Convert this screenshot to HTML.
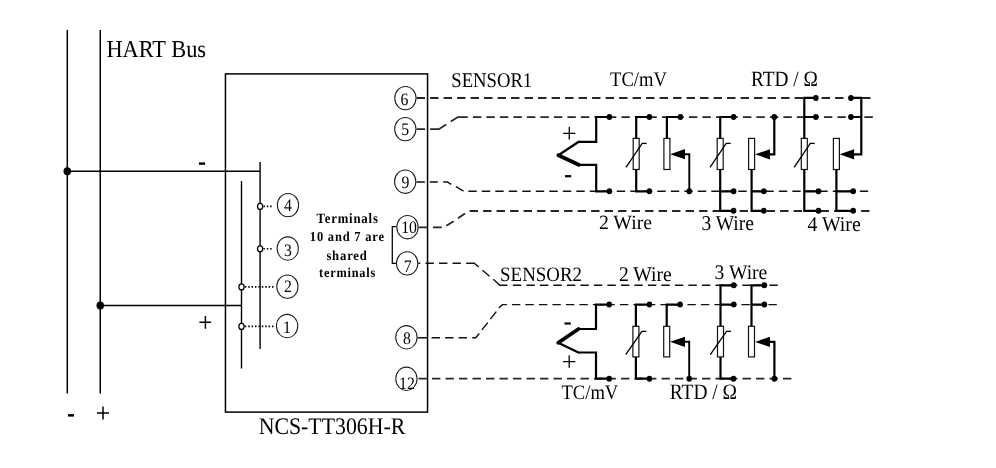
<!DOCTYPE html>
<html><head><meta charset="utf-8"><style>
html,body{margin:0;padding:0;background:#fff;}
body{width:996px;height:468px;overflow:hidden;}
svg{display:block;will-change:transform;text-rendering:geometricPrecision;}
</style></head><body>
<svg width="996" height="468" viewBox="0 0 996 468" stroke="#000" fill="none">
<line x1="67.3" y1="30" x2="67.3" y2="393.5" stroke="#000" stroke-width="1.5"/>
<line x1="100.25" y1="30" x2="100.25" y2="393.5" stroke="#000" stroke-width="1.5"/>
<line x1="67.3" y1="171.3" x2="260.1" y2="171.3" stroke="#000" stroke-width="1.5"/>
<line x1="100.25" y1="305.5" x2="241.5" y2="305.5" stroke="#000" stroke-width="1.5"/>
<ellipse cx="67.3" cy="171.3" rx="3.75" ry="4.1" fill="#000" stroke="none"/>
<ellipse cx="100.25" cy="305.5" rx="3.75" ry="4.1" fill="#000" stroke="none"/>
<text transform="translate(106.44,57.2) scale(0.9212,1)" font-size="24.3" font-weight="normal" letter-spacing="0" font-family="Liberation Serif" fill="#000" stroke="none">HART Bus</text>
<rect x="198.9" y="162.4" width="6.2" height="2.4" fill="#000" stroke="none"/>
<path d="M199.4,322.3 H211.1 M205.4,316.1 V328.7" stroke-width="1.45" fill="none" />
<rect x="68" y="414.1" width="6" height="2.5" fill="#000" stroke="none"/>
<path d="M96.9,413 H109 M103,406.4 V419.6" stroke-width="1.5" fill="none" />
<rect x="225.45" y="73.9" width="202.1" height="338.2" fill="none" stroke-width="1.5"/>
<text transform="translate(258.65,433.9) scale(0.9149,1)" font-size="23.85" font-weight="normal" letter-spacing="0" font-family="Liberation Serif" fill="#000" stroke="none">NCS-TT306H-R</text>
<line x1="260.1" y1="162" x2="260.1" y2="349" stroke="#000" stroke-width="1.4"/>
<line x1="241.5" y1="181" x2="241.5" y2="368.5" stroke="#000" stroke-width="1.4"/>
<line x1="263.4" y1="206.4" x2="273.6" y2="206.4" stroke-width="1.6" stroke-dasharray="1.5 1.9"/>
<ellipse cx="260.1" cy="206.4" rx="2.6" ry="3.0" fill="#fff" stroke-width="1.25"/>
<line x1="263.4" y1="248.8" x2="273.6" y2="248.8" stroke-width="1.6" stroke-dasharray="1.5 1.9"/>
<ellipse cx="260.1" cy="248.8" rx="2.6" ry="3.0" fill="#fff" stroke-width="1.25"/>
<line x1="244.8" y1="286.9" x2="273.6" y2="286.9" stroke-width="1.6" stroke-dasharray="1.5 1.9"/>
<ellipse cx="241.5" cy="286.9" rx="2.6" ry="3.0" fill="#fff" stroke-width="1.25"/>
<line x1="244.8" y1="326.4" x2="273.6" y2="326.4" stroke-width="1.6" stroke-dasharray="1.5 1.9"/>
<ellipse cx="241.5" cy="326.4" rx="2.6" ry="3.0" fill="#fff" stroke-width="1.25"/>
<ellipse cx="288" cy="205.05" rx="10.65" ry="11.65" fill="none" stroke="#1a1a1a" stroke-width="1.05"/>
<text transform="translate(284.06,210.9) scale(0.9000,1)" font-size="17.5" font-weight="normal" letter-spacing="0" font-family="Liberation Serif" fill="#000" stroke="none">4</text>
<ellipse cx="287.75" cy="248.5" rx="10.65" ry="11.65" fill="none" stroke="#1a1a1a" stroke-width="1.05"/>
<text transform="translate(283.96,255.88) scale(0.9000,1)" font-size="17.5" font-weight="normal" letter-spacing="0" font-family="Liberation Serif" fill="#000" stroke="none">3</text>
<ellipse cx="287.4" cy="286.6" rx="10.65" ry="11.65" fill="none" stroke="#1a1a1a" stroke-width="1.05"/>
<text transform="translate(284.01,292.2) scale(0.9000,1)" font-size="17.5" font-weight="normal" letter-spacing="0" font-family="Liberation Serif" fill="#000" stroke="none">2</text>
<ellipse cx="287.1" cy="326" rx="10.65" ry="11.65" fill="none" stroke="#1a1a1a" stroke-width="1.05"/>
<text transform="translate(282.92,332.8) scale(0.9000,1)" font-size="17.5" font-weight="normal" letter-spacing="0" font-family="Liberation Serif" fill="#000" stroke="none">1</text>
<text transform="translate(316.54,222.82) scale(0.8913,1)" font-size="14.29" font-weight="bold" letter-spacing="0.93" font-family="Liberation Serif" fill="#000" stroke="none">Terminals</text>
<text transform="translate(309.87,241.13) scale(0.9087,1)" font-size="13.71" font-weight="bold" letter-spacing="0.89" font-family="Liberation Serif" fill="#000" stroke="none">10 and 7 are</text>
<text transform="translate(326.38,259.53) scale(0.9128,1)" font-size="13.86" font-weight="bold" letter-spacing="0.9" font-family="Liberation Serif" fill="#000" stroke="none">shared</text>
<text transform="translate(319.05,277.33) scale(0.9061,1)" font-size="13.57" font-weight="bold" letter-spacing="0.88" font-family="Liberation Serif" fill="#000" stroke="none">terminals</text>
<path d="M396,226.6 H392.3 V263.4 H396" stroke-width="1.25" fill="none" />
<path d="M416.6,98 H871" stroke="#262626" stroke-width="1.8" fill="none" stroke-dasharray="8.4 5.1" stroke-dashoffset="0"/>
<path d="M416.6,129.2 H425 M430.1,129.2 H438.8 L446.3,124.6 M450.8,121.6 L457.9,117.1 H467.8" stroke="#262626" stroke-width="1.8" fill="none"/>
<path d="M472.9,117.1 H873" stroke="#262626" stroke-width="1.8" fill="none" stroke-dasharray="8.4 5.1" stroke-dashoffset="0"/>
<path d="M416.4,182 H424.8 M429.8,182 H437.8 M443.2,182 H447.4 L451.2,184.4 M456,186.6 L463.5,191.1" stroke="#111" stroke-width="1.45" fill="none"/>
<path d="M468.3,191.2 H869" stroke="#111" stroke-width="1.45" fill="none" stroke-dasharray="8.4 5.1" stroke-dashoffset="0"/>
<path d="M418.7,227.3 H427.3 M432.9,227.3 H441.8 M446.3,225.8 L453.7,221.3 M458,218.3 L465,213.5" stroke="#262626" stroke-width="1.8" fill="none"/>
<path d="M469.6,211 H870" stroke="#262626" stroke-width="1.8" fill="none" stroke-dasharray="8.4 5.1" stroke-dashoffset="0"/>
<path d="M418.3,263.2 H420.3 M466.2,263.2 H474.2 L478.8,267 M482.5,270.3 L489.5,276.3 M493.3,279.3 L499.8,285.2 H507.4" stroke="#111" stroke-width="1.45" fill="none"/>
<path d="M425.5,263.2 H466" stroke="#111" stroke-width="1.45" fill="none" stroke-dasharray="8.4 5.1" stroke-dashoffset="0"/>
<path d="M512.9,285.2 H778" stroke="#111" stroke-width="1.45" fill="none" stroke-dasharray="8.4 5.1" stroke-dashoffset="0"/>
<path d="M417.5,337.7 H427 M472.2,337.7 H475.7 L479.3,333.6 M481.8,329.9 L487.8,322.6 M490.3,319.1 L496.3,311.6 M498.8,308 L502.4,304.6 H506.9" stroke="#111" stroke-width="1.45" fill="none"/>
<path d="M431.6,337.7 H472" stroke="#111" stroke-width="1.45" fill="none" stroke-dasharray="8.4 5.1" stroke-dashoffset="0"/>
<path d="M511.9,304.6 H778" stroke="#111" stroke-width="1.45" fill="none" stroke-dasharray="8.4 5.1" stroke-dashoffset="0"/>
<path d="M417.6,378.7 H791.5" stroke="#262626" stroke-width="1.7" fill="none" stroke-dasharray="8.4 5.1" stroke-dashoffset="12.6"/>
<ellipse cx="405.4" cy="98.1" rx="10.65" ry="11.65" fill="none" stroke="#1a1a1a" stroke-width="1.05"/>
<text transform="translate(400.41,105.48) scale(0.9000,1)" font-size="17.5" font-weight="normal" letter-spacing="0" font-family="Liberation Serif" fill="#000" stroke="none">6</text>
<ellipse cx="405.3" cy="129.1" rx="10.65" ry="11.65" fill="none" stroke="#1a1a1a" stroke-width="1.05"/>
<text transform="translate(401.27,135.28) scale(0.9000,1)" font-size="17.5" font-weight="normal" letter-spacing="0" font-family="Liberation Serif" fill="#000" stroke="none">5</text>
<ellipse cx="405.2" cy="181.7" rx="10.65" ry="11.65" fill="none" stroke="#1a1a1a" stroke-width="1.05"/>
<text transform="translate(401.56,187.58) scale(0.9000,1)" font-size="17.5" font-weight="normal" letter-spacing="0" font-family="Liberation Serif" fill="#000" stroke="none">9</text>
<ellipse cx="407.5" cy="227.2" rx="10.65" ry="11.65" fill="none" stroke="#1a1a1a" stroke-width="1.05"/>
<text transform="translate(401.23,232.58) scale(0.9000,1)" font-size="17.5" font-weight="normal" letter-spacing="0" font-family="Liberation Serif" fill="#000" stroke="none">10</text>
<ellipse cx="407.15" cy="263.4" rx="10.65" ry="11.65" fill="none" stroke="#1a1a1a" stroke-width="1.05"/>
<text transform="translate(403.77,271.8) scale(0.9000,1)" font-size="17.5" font-weight="normal" letter-spacing="0" font-family="Liberation Serif" fill="#000" stroke="none">7</text>
<ellipse cx="406.4" cy="337.25" rx="10.65" ry="11.65" fill="none" stroke="#1a1a1a" stroke-width="1.05"/>
<text transform="translate(402.91,343.58) scale(0.9000,1)" font-size="17.5" font-weight="normal" letter-spacing="0" font-family="Liberation Serif" fill="#000" stroke="none">8</text>
<ellipse cx="406.4" cy="378.75" rx="10.65" ry="11.65" fill="none" stroke="#1a1a1a" stroke-width="1.05"/>
<text transform="translate(399.03,388.7) scale(0.9000,1)" font-size="17.5" font-weight="normal" letter-spacing="0" font-family="Liberation Serif" fill="#000" stroke="none">12</text>
<text transform="translate(451.33,86.64) scale(0.8932,1)" font-size="20.89" font-weight="normal" letter-spacing="0" font-family="Liberation Serif" fill="#000" stroke="none">SENSOR1</text>
<text transform="translate(610.07,86.44) scale(0.8968,1)" font-size="20.74" font-weight="normal" letter-spacing="0" font-family="Liberation Serif" fill="#000" stroke="none">TC/mV</text>
<text transform="translate(750.92,86.43) scale(0.8879,1)" font-size="21.78" font-weight="normal" letter-spacing="0" font-family="Liberation Serif" fill="#000" stroke="none">RTD / Ω</text>
<text transform="translate(598.91,229.35) scale(0.9721,1)" font-size="20.3" font-weight="normal" letter-spacing="0" font-family="Liberation Serif" fill="#000" stroke="none">2 Wire</text>
<text transform="translate(701.42,229.84) scale(0.9288,1)" font-size="21.04" font-weight="normal" letter-spacing="0" font-family="Liberation Serif" fill="#000" stroke="none">3 Wire</text>
<text transform="translate(807.4,230.84) scale(0.9416,1)" font-size="21.04" font-weight="normal" letter-spacing="0" font-family="Liberation Serif" fill="#000" stroke="none">4 Wire</text>
<text transform="translate(500.12,280.54) scale(0.9231,1)" font-size="20.44" font-weight="normal" letter-spacing="0" font-family="Liberation Serif" fill="#000" stroke="none">SENSOR2</text>
<text transform="translate(618.92,280.84) scale(0.9409,1)" font-size="20.89" font-weight="normal" letter-spacing="0" font-family="Liberation Serif" fill="#000" stroke="none">2 Wire</text>
<text transform="translate(714.62,279.14) scale(0.9439,1)" font-size="20.74" font-weight="normal" letter-spacing="0" font-family="Liberation Serif" fill="#000" stroke="none">3 Wire</text>
<text transform="translate(561.47,398.64) scale(0.9033,1)" font-size="20.59" font-weight="normal" letter-spacing="0" font-family="Liberation Serif" fill="#000" stroke="none">TC/mV</text>
<text transform="translate(669.71,398.73) scale(0.8873,1)" font-size="21.93" font-weight="normal" letter-spacing="0" font-family="Liberation Serif" fill="#000" stroke="none">RTD / Ω</text>
<path d="M609.4,117 H596.2 V141.8 H578.7" stroke-width="2.2" fill="none" />
<path d="M609.4,191.3 H596.2 V164.8 H578.7" stroke-width="2.2" fill="none" />
<path d="M578.7,141.8 L558.4,155.3" stroke-width="2.3" fill="none" stroke-linecap="round"/>
<path d="M558.4,155.3 L578.7,164.8" stroke-width="3.8" fill="none" stroke-linecap="round"/>
<ellipse cx="609.4" cy="117" rx="2.8" ry="3.0" fill="#000" stroke="none"/>
<ellipse cx="609.4" cy="191.3" rx="2.8" ry="3.0" fill="#000" stroke="none"/>
<path d="M563.2,133.3 H575.4 M569.3,127 V139.6" stroke-width="1.3" fill="none" />
<rect x="565" y="175.1" width="6.2" height="2.2" fill="#000" stroke="none"/>
<path d="M649.4,117.0 H636.2 V138.4 M636.2,169.5 V191.3 H649.4" stroke-width="2.2" fill="none" />
<rect x="633.2" y="138.4" width="6.0" height="31.1" fill="#fff" stroke="#111" stroke-width="1.2"/>
<path d="M626,167.3 L642.2,143.4 H646.7" stroke-width="1.3" fill="none" />
<ellipse cx="649.4" cy="117" rx="2.8" ry="3.0" fill="#000" stroke="none"/>
<ellipse cx="649.4" cy="191.3" rx="2.8" ry="3.0" fill="#000" stroke="none"/>
<path d="M680.4,117.0 H666.9 V138.4" stroke-width="2.2" fill="none" />
<rect x="663.9" y="138.4" width="6.0" height="31.1" fill="#fff" stroke="#111" stroke-width="1.2"/>
<path d="M684,154.2 H689.3 V191.3" stroke-width="1.9" fill="none" />
<path d="M670.2,154.2 L685,149.1 V159.3 Z" fill="#000" stroke="none"/>
<ellipse cx="680.4" cy="117" rx="2.8" ry="3.0" fill="#000" stroke="none"/>
<ellipse cx="689.3" cy="191.3" rx="2.8" ry="3.0" fill="#000" stroke="none"/>
<path d="M733.6,117.0 H720.2 V138.4 M720.2,169.5 V210.8 H733.6 M720.2,191.3 H733.6" stroke-width="2.2" fill="none" />
<rect x="717.2" y="138.4" width="6.0" height="31.1" fill="#fff" stroke="#111" stroke-width="1.2"/>
<path d="M710,167.3 L726.2,143.4 H730.7" stroke-width="1.3" fill="none" />
<ellipse cx="733.6" cy="117" rx="2.8" ry="3.0" fill="#000" stroke="none"/>
<ellipse cx="733.6" cy="191.3" rx="2.8" ry="3.0" fill="#000" stroke="none"/>
<ellipse cx="733.6" cy="210.8" rx="2.8" ry="3.0" fill="#000" stroke="none"/>
<path d="M751.6,169.5 V210.8 H763.8 M751.6,191.3 H763.8" stroke-width="2.2" fill="none" />
<rect x="748.6" y="138.4" width="6.0" height="31.1" fill="#fff" stroke="#111" stroke-width="1.2"/>
<path d="M769,154.3 H774.3 V117.0" stroke-width="2.2" fill="none" />
<path d="M755,154.3 L770,149.2 V159.4 Z" fill="#000" stroke="none"/>
<ellipse cx="763.8" cy="191.3" rx="2.8" ry="3.0" fill="#000" stroke="none"/>
<ellipse cx="763.8" cy="210.8" rx="2.8" ry="3.0" fill="#000" stroke="none"/>
<ellipse cx="774.3" cy="117" rx="2.8" ry="3.0" fill="#000" stroke="none"/>
<path d="M815.9,97.9 H804.3 V138.4 M804.3,117.0 H815.9 M804.3,169.5 V210.8 H818.5 M804.3,191.3 H818.5" stroke-width="2.2" fill="none" />
<rect x="801.3" y="138.4" width="6.0" height="31.1" fill="#fff" stroke="#111" stroke-width="1.2"/>
<path d="M794.1,167.3 L810.3,143.4 H814.8" stroke-width="1.3" fill="none" />
<ellipse cx="815.9" cy="97.9" rx="2.8" ry="3.0" fill="#000" stroke="none"/>
<ellipse cx="815.9" cy="117" rx="2.8" ry="3.0" fill="#000" stroke="none"/>
<ellipse cx="818.5" cy="191.3" rx="2.8" ry="3.0" fill="#000" stroke="none"/>
<ellipse cx="818.5" cy="210.8" rx="2.8" ry="3.0" fill="#000" stroke="none"/>
<path d="M836.4,169.5 V210.8 H853.2 M836.4,191.3 H853.2" stroke-width="2.2" fill="none" />
<rect x="833.4" y="138.4" width="6.0" height="31.1" fill="#fff" stroke="#111" stroke-width="1.2"/>
<path d="M850.9,97.9 H861.3 V154.3 H853 M850.9,117.0 H861.3" stroke-width="2.2" fill="none" />
<path d="M839.6,154.3 L854.1,149.2 V159.4 Z" fill="#000" stroke="none"/>
<ellipse cx="850.9" cy="97.9" rx="2.8" ry="3.0" fill="#000" stroke="none"/>
<ellipse cx="850.9" cy="117" rx="2.8" ry="3.0" fill="#000" stroke="none"/>
<ellipse cx="853.2" cy="191.3" rx="2.8" ry="3.0" fill="#000" stroke="none"/>
<ellipse cx="853.2" cy="210.8" rx="2.8" ry="3.0" fill="#000" stroke="none"/>
<path d="M609.2,304.6 H596 V329 H578.5" stroke-width="2.2" fill="none" />
<path d="M609.2,378.7 H596 V352.5 H578.5" stroke-width="2.2" fill="none" />
<path d="M578.5,329 L558.2,342.8" stroke-width="3.8" fill="none" stroke-linecap="round"/>
<path d="M558.2,342.8 L578.5,352.5" stroke-width="2.3" fill="none" stroke-linecap="round"/>
<ellipse cx="609.2" cy="304.6" rx="2.8" ry="3.0" fill="#000" stroke="none"/>
<ellipse cx="609.2" cy="378.7" rx="2.8" ry="3.0" fill="#000" stroke="none"/>
<rect x="564.5" y="322.4" width="6.3" height="2.2" fill="#000" stroke="none"/>
<path d="M563.1,361.7 H575.3 M569.2,355.3 V367.8" stroke-width="1.3" fill="none" />
<path d="M649.4,304.6 H635.9 V326.3 M635.9,356.9 V378.7 H649.4" stroke-width="2.2" fill="none" />
<rect x="632.9" y="326.3" width="6.0" height="30.6" fill="#fff" stroke="#111" stroke-width="1.2"/>
<path d="M625.7,354.7 L641.9,331.3 H646.4" stroke-width="1.3" fill="none" />
<ellipse cx="649.4" cy="304.6" rx="2.8" ry="3.0" fill="#000" stroke="none"/>
<ellipse cx="649.4" cy="378.7" rx="2.8" ry="3.0" fill="#000" stroke="none"/>
<path d="M680.1,304.6 H666.7 V326.3" stroke-width="2.2" fill="none" />
<rect x="663.7" y="326.3" width="6.0" height="30.6" fill="#fff" stroke="#111" stroke-width="1.2"/>
<path d="M684,341.8 H689.2 V378.7" stroke-width="1.9" fill="none" />
<path d="M670,341.8 L685,336.7 V346.9 Z" fill="#000" stroke="none"/>
<ellipse cx="680.1" cy="304.6" rx="2.8" ry="3.0" fill="#000" stroke="none"/>
<ellipse cx="689.2" cy="378.7" rx="2.8" ry="3.0" fill="#000" stroke="none"/>
<path d="M733.8,285.3 H720.5 V326.3 M720.5,304.6 H733.8 M720.5,356.9 V378.7 H733.5" stroke-width="2.2" fill="none" />
<rect x="717.5" y="326.3" width="6.0" height="30.6" fill="#fff" stroke="#111" stroke-width="1.2"/>
<path d="M710.3,354.7 L726.5,331.3 H731" stroke-width="1.3" fill="none" />
<ellipse cx="733.8" cy="285.3" rx="2.8" ry="3.0" fill="#000" stroke="none"/>
<ellipse cx="733.8" cy="304.6" rx="2.8" ry="3.0" fill="#000" stroke="none"/>
<ellipse cx="733.5" cy="378.7" rx="2.8" ry="3.0" fill="#000" stroke="none"/>
<path d="M764.4,285.3 H751.5 V326.3 M751.5,304.6 H764.4" stroke-width="2.2" fill="none" />
<rect x="748.5" y="326.3" width="6.0" height="30.6" fill="#fff" stroke="#111" stroke-width="1.2"/>
<path d="M769,341.9 H774.4 V378.7" stroke-width="2.2" fill="none" />
<path d="M755.2,341.9 L770,336.8 V347 Z" fill="#000" stroke="none"/>
<ellipse cx="764.4" cy="285.3" rx="2.8" ry="3.0" fill="#000" stroke="none"/>
<ellipse cx="764.4" cy="304.6" rx="2.8" ry="3.0" fill="#000" stroke="none"/>
<ellipse cx="774.4" cy="378.7" rx="2.8" ry="3.0" fill="#000" stroke="none"/>
</svg></body></html>
